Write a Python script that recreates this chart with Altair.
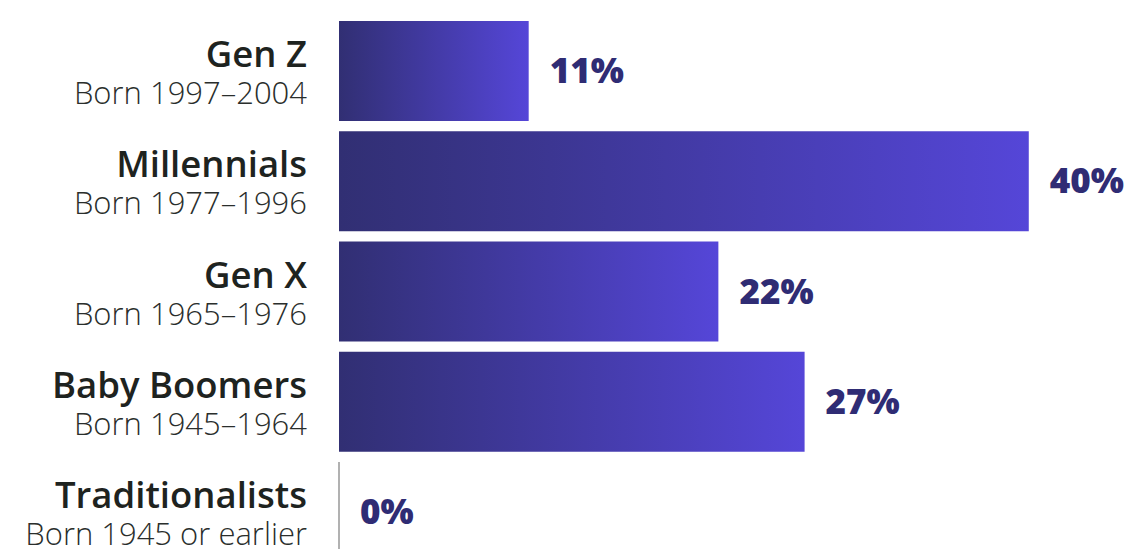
import altair as alt
import pandas as pd

names = ["Gen Z", "Millennials", "Gen X", "Baby Boomers", "Traditionalists"]
subtitles = ["Born 1997–2004", "Born 1977–1996", "Born 1965–1976", "Born 1945–1964", "Born 1945 or earlier"]
values = [11, 40, 22, 27, 0]

df = pd.DataFrame({"name": names, "sub": subtitles, "value": values})
df["label"] = df["value"].astype(str) + "%"

FONT = "Open Sans"
y_enc = alt.Y("name:N", sort=names, axis=None,
              scale=alt.Scale(paddingInner=0.0934, paddingOuter=0))
x_scale = alt.Scale(domain=[0, 45], nice=False, zero=True)

grad = alt.Gradient(
    gradient="linear",
    stops=[alt.GradientStop(color="#312f73", offset=0),
           alt.GradientStop(color="#5546d8", offset=1)],
    x1=0, x2=1, y1=0, y2=0,
)

base = alt.Chart(df)

bars = base.transform_filter("datum.value > 0").mark_bar(color=grad).encode(
    x=alt.X("value:Q", scale=x_scale, axis=None),
    y=y_enc,
)

zero_tick = base.transform_filter("datum.value == 0").mark_tick(
    color="#222222", thickness=1, size=100, orient="vertical"
).encode(
    x=alt.X("value:Q", scale=x_scale, axis=None),
    y=y_enc,
)

vals = base.mark_text(
    font=FONT, fontSize=35, fontWeight=800, color="#2f2c74",
    align="left", baseline="alphabetic", dx=21, dy=12,
).encode(
    x=alt.X("value:Q", scale=x_scale, axis=None),
    y=y_enc,
    text="label:N",
)

name_text = base.mark_text(
    font=FONT, fontSize=36.5, fontWeight=600, color="#1e2320",
    align="right", baseline="alphabetic", dy=-4,
).encode(
    x=alt.value(-32),
    y=y_enc,
    text="name:N",
)

sub_text = base.mark_text(
    font="Open Sans Light, Open Sans", fontSize=31, fontWeight=300, color="#2a2e2c",
    align="right", baseline="alphabetic", dy=33,
).encode(
    x=alt.value(-32),
    y=y_enc,
    text="sub:N",
)

chart = alt.layer(bars, zero_tick, vals, name_text, sub_text).properties(
    width=776,
    height=541,
    autosize=alt.AutoSizeParams(type="none"),
    padding={"left": 331, "top": 13, "right": 9, "bottom": 0},
).configure(background="white", view=alt.ViewConfig(stroke=None))

chart.save("out.html", embed_options={"renderer": "svg", "actions": False})
